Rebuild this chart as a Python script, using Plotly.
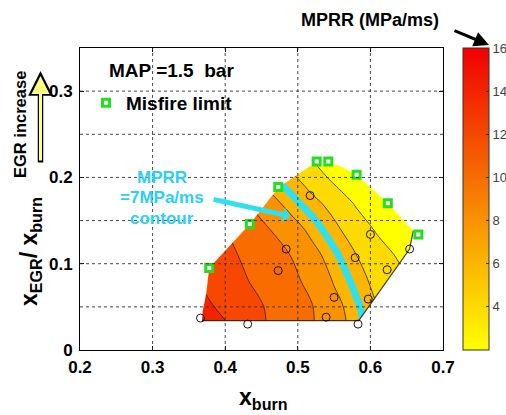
import plotly.graph_objects as go

# ---------------- data ----------------
# MPRR field (MPa/ms) read from the filled contour map
grid_x = [0.34, 0.37, 0.40, 0.43, 0.46, 0.49, 0.52, 0.55, 0.58, 0.61, 0.64, 0.67, 0.70]
grid_y = [0.02, 0.05, 0.08, 0.11, 0.14, 0.17, 0.20, 0.23]
mprr = [
    [15.8, 15.2, 14.4, 13.11, 11.85, 10.97, 10.09, 8.85, 7.47, 6.32, 5.5, 4.75, 3.9],
    [15.3, 14.44, 13.56, 12.68, 11.80, 10.93, 10.06, 8.56, 7.24, 5.98, 5.25, 4.5, 3.75],
    [14.56, 13.72, 12.89, 12.06, 11.28, 10.51, 9.44, 7.86, 6.68, 5.49, 4.60, 3.70, 3.0],
    [14.05, 13.23, 12.46, 11.67, 10.83, 9.98, 8.54, 7.24, 6.04, 4.88, 3.73, 3.1, 2.6],
    [13.5, 12.75, 12.02, 11.03, 10.06, 8.83, 7.52, 6.37, 5.12, 3.72, 3.0, 2.5, 2.2],
    [13.2, 12.4, 11.2, 10.02, 8.75, 7.4, 6.46, 5.41, 3.8, 3.1, 2.6, 2.3, 2.1],
    [13.0, 11.5, 10.02, 8.5, 7.2, 6.36, 5.11, 3.5, 2.9, 2.5, 2.3, 2.1, 2.0],
    [11.5, 9.98, 8.5, 6.98, 6.25, 4.67, 3.4, 2.8, 2.5, 2.3, 2.2, 2.1, 2.0],
]

# outline of the measured operating region (clockwise)
hull_x = [0.368, 0.369, 0.374, 0.378, 0.434, 0.474, 0.517, 0.556, 0.581, 0.624, 0.659, 0.654, 0.584, 0.368]
hull_y = [0.034, 0.045, 0.066, 0.095, 0.146, 0.189, 0.213, 0.214, 0.203, 0.170, 0.138, 0.117, 0.034, 0.034]

# measured points (open circles)
pts_x = [0.517, 0.484, 0.473, 0.431, 0.366, 0.539, 0.550, 0.583, 0.579, 0.600, 0.623, 0.597, 0.654]
pts_y = [0.179, 0.117, 0.092, 0.030, 0.037, 0.038, 0.061, 0.030, 0.107, 0.134, 0.093, 0.059, 0.117]

# misfire limit points (green squares)
mis_x = [0.378, 0.434, 0.473, 0.526, 0.542, 0.581, 0.624, 0.666]
mis_y = [0.095, 0.146, 0.189, 0.2185, 0.2185, 0.203, 0.170, 0.134]

x_ticks = [0.2, 0.3, 0.4, 0.5, 0.6, 0.7]
y_ticks = [0, 0.1, 0.2, 0.3]
y_ticktext = ["0", "0.1", "0.2", "0.3"]
x_gridlines = [0.3, 0.4, 0.5, 0.6]
y_gridlines = [0.05, 0.1, 0.15, 0.2, 0.25, 0.3]
cbar_ticks = [4, 6, 8, 10, 12, 14, 16]
contour_levels = dict(start=4, end=14, size=2)
highlight_level = 7

FONT = "Arial, Liberation Sans, sans-serif"
autumn = [[0, "rgb(255,255,0)"], [1, "rgb(240,0,0)"]]
# band colours = colour of lower level (MATLAB contourf style), range 2..16
band_scale = [[0, "rgb(255,255,0)"], [1, "rgb(245,34,0)"]]

fig = go.Figure()

fig.add_trace(go.Contour(
    x=grid_x, y=grid_y, z=mprr,
    autocontour=False,
    contours=dict(start=contour_levels["start"], end=contour_levels["end"],
                  size=contour_levels["size"], coloring="fill"),
    colorscale=band_scale, showscale=False, showlegend=False,
    line=dict(color="rgba(40,25,0,0.85)", width=0.9, smoothing=1),
    hoverinfo="skip",
))

fig.add_trace(go.Contour(
    x=grid_x, y=grid_y, z=mprr,
    autocontour=False,
    contours=dict(start=highlight_level, end=highlight_level, size=1, coloring="none"),
    showscale=False, showlegend=False,
    line=dict(color="#2ee0f0", width=7, smoothing=1),
    hoverinfo="skip",
))

# white mask outside the operating region
x0, x1 = grid_x[0] - 0.01, grid_x[-1] + 0.01
y0, y1 = grid_y[0] - 0.01, grid_y[-1] + 0.01
mask_x = [x0, x1, x1, x0, x0] + hull_x + [x0]
mask_y = [y0, y0, y1, y1, y0] + hull_y + [y0]
fig.add_trace(go.Scatter(
    x=mask_x, y=mask_y, mode="lines", fill="toself", fillcolor="white",
    line=dict(width=0), hoverinfo="skip", showlegend=False,
))

# dark lower edges of region
fig.add_trace(go.Scatter(
    x=hull_x[-4:], y=hull_y[-4:], mode="lines",
    line=dict(color="rgba(20,20,20,0.8)", width=1.2),
    hoverinfo="skip", showlegend=False,
))

fig.add_trace(go.Scatter(
    x=pts_x, y=pts_y, mode="markers",
    marker=dict(symbol="circle-open", size=8, color="black", line=dict(width=0.9)),
    showlegend=False, hoverinfo="skip",
))

fig.add_trace(go.Scatter(
    x=mis_x, y=mis_y, mode="markers", name="Misfire limit",
    marker=dict(symbol="square", size=7, color="white",
                line=dict(color="#22e01a", width=3)),
    showlegend=True, hoverinfo="skip",
))


def px(xp):
    return (xp - 80) / 363


def py(yp):
    return (350 - yp) / 302


# colour bar (continuous)
fig.add_trace(go.Scatter(
    x=[None], y=[None], mode="markers", showlegend=False,
    marker=dict(color=[cbar_ticks[0]], cmin=2, cmax=16, colorscale=autumn, showscale=True,
                colorbar=dict(x=px(463), xanchor="left", xpad=0, ypad=0, y=0.5, yanchor="middle",
                              len=1, lenmode="fraction", thickness=26,
                              outlinewidth=1, outlinecolor="#333",
                              tickvals=cbar_ticks, ticks="inside", ticklen=3,
                              tickcolor="#333",
                              tickfont=dict(family=FONT, size=13, color="#444"))),
))

shapes = []
for xv in x_gridlines:
    shapes.append(dict(type="line", xref="x", yref="y", x0=xv, x1=xv, y0=0, y1=0.35,
                       line=dict(color="rgba(50,50,50,0.9)", width=1, dash="3px,3px"),
                       layer="above"))
for yv in y_gridlines:
    shapes.append(dict(type="line", xref="x", yref="y", x0=0.2, x1=0.7, y0=yv, y1=yv,
                       line=dict(color="rgba(50,50,50,0.9)", width=1, dash="3px,3px"),
                       layer="above"))


def label(text, xp, yp, size, weight="bold", color="black", angle=0):
    return dict(text=text, xref="paper", yref="paper", x=px(xp), y=py(yp),
                xanchor="center", yanchor="middle", textangle=angle, showarrow=False,
                font=dict(family=FONT, size=size, weight=weight, color=color))


cyan_txt = "#2ccff5"
annotations = [
    label("MAP =1.5  bar", 171, 71, 19),
    label("MPRR (MPa/ms)", 370, 20, 18),
    label("MPRR", 162, 177, 17, color=cyan_txt),
    label("=7MPa/ms", 162, 197, 17, color=cyan_txt),
    label("contour", 162, 218, 17, color=cyan_txt),
    label("x<sub>burn</sub>", 263, 398, 23),
    label("x<sub>EGR</sub>/ x<sub>burn</sub>", 30, 252, 23, angle=-90),
    label("EGR increase", 20, 125, 16.5, angle=-90),
    # arrow to colour bar top
    dict(text="", xref="paper", yref="paper", x=px(489), y=py(45), ax=-36, ay=-15,
         showarrow=True, arrowhead=2, arrowsize=1, arrowwidth=3, arrowcolor="black"),
    # arrow pointing at the 7 MPa/ms contour
    dict(text="", xref="x", yref="y", x=0.49, y=0.155, axref="x", ayref="y", ax=0.382, ay=0.175,
         showarrow=True, arrowhead=1, arrowsize=0.5, arrowwidth=5, arrowcolor="#2ee0f0"),
    # EGR increase arrow (black outline + yellow)
    dict(text="", xref="paper", yref="paper", x=px(40.5), y=py(71),
         ax=0, ay=93, showarrow=True, arrowhead=2, arrowsize=0.9, arrowwidth=5.5,
         arrowcolor="black"),
    dict(text="", xref="paper", yref="paper", x=px(40.5), y=py(76),
         ax=0, ay=86, showarrow=True, arrowhead=2, arrowsize=1.2, arrowwidth=3,
         arrowcolor="#ffff80"),
]

fig.update_layout(
    width=506, height=415,
    margin=dict(l=80, r=63, t=48, b=65, autoexpand=False),
    paper_bgcolor="white", plot_bgcolor="white",
    font=dict(family=FONT, color="black"),
    shapes=shapes, annotations=annotations,
    showlegend=True,
    legend=dict(x=px(86), y=py(103), xanchor="left", yanchor="middle",
                bgcolor="rgba(0,0,0,0)", borderwidth=0,
                font=dict(family=FONT, size=19, weight="bold", color="black")),
    xaxis=dict(range=[0.2, 0.7], tickvals=x_ticks, showgrid=False, zeroline=False,
               showline=True, linecolor="black", linewidth=1, mirror="ticks",
               ticks="inside", ticklen=4, tickcolor="black", ticklabelstandoff=2,
               tickfont=dict(family=FONT, size=17, weight="bold", color="black")),
    yaxis=dict(range=[0, 0.35], tickvals=y_ticks, ticktext=y_ticktext, showgrid=False,
               zeroline=False, showline=True, linecolor="black", linewidth=1,
               mirror="ticks", ticks="inside", ticklen=4, tickcolor="black",
               ticklabelstandoff=3,
               tickfont=dict(family=FONT, size=17, weight="bold", color="black")),
)

fig.write_html("out.html")
